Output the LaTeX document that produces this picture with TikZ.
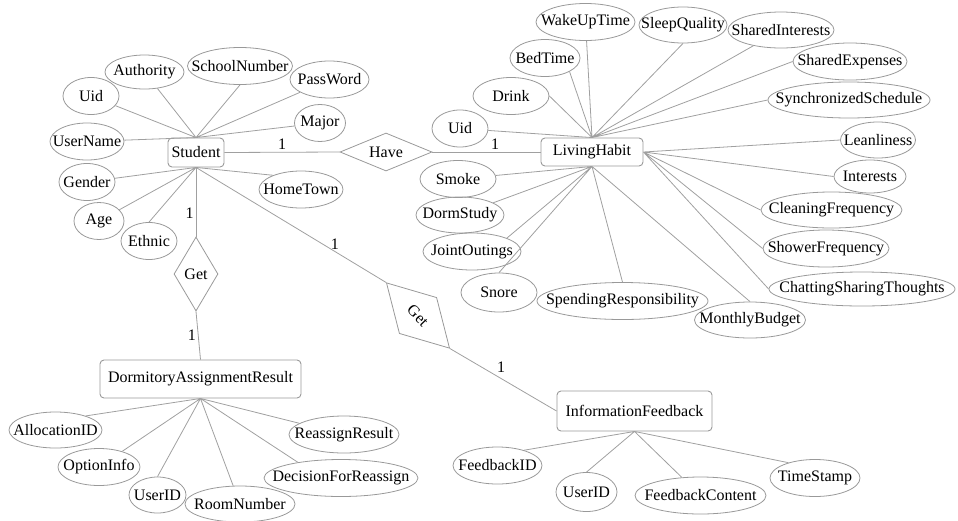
\documentclass[tikz,border=0pt]{standalone}
\usepackage{fontspec}
\setmainfont{Liberation Serif}
\usepackage{tikz}
\usetikzlibrary{shapes.geometric}
\definecolor{linegray}{HTML}{A0A0A0}
\definecolor{boxgray}{HTML}{999999}

\begin{document}
\begin{tikzpicture}[x=1pt, y=-1pt, font=\fontsize{16}{19}\selectfont,
  entity/.style={draw=boxgray, rounded corners=4pt, inner sep=2pt, line width=0.9pt},
  attr/.style={ellipse, draw=boxgray, inner sep=0pt, minimum height=37pt, line width=0.8pt,
    execute at begin node={\hbox to 0pt\bgroup\hss}, execute at end node={\hss\egroup}},
  rel/.style={diamond, draw=boxgray, inner sep=0pt, line width=0.8pt},
  link/.style={draw=linegray, line width=0.8pt},
  card/.style={inner sep=2pt}]
\useasboundingbox (0,0) rectangle (958,520);

% entities
\node[entity, minimum width=56pt, minimum height=29pt] (student) at (196,152.5) {Student};
\node[entity, minimum width=102pt, minimum height=28pt] (living) at (592,152) {LivingHabit};
\node[entity, minimum width=201pt, minimum height=38pt] (dorm) at (200.5,379) {DormitoryAssignmentResult};
\node[entity, minimum width=155pt, minimum height=40pt] (feedback) at (634.5,411) {InformationFeedback};

% relations
\node[rel, minimum width=92pt, minimum height=38pt, aspect=2.4] (have) at (386,152) {Have};
\node[rel, minimum width=44pt, minimum height=74pt, aspect=0.6] (getD) at (196,274) {Get};
\node[rel, minimum width=91pt, minimum height=52pt, aspect=1.75, rotate=-46] (getF) at (418,315.5) {Get};

% Student attributes
\node[attr, minimum width=56pt] (uidS) at (91,96) {Uid};
\node[attr, minimum width=79pt, minimum height=34pt] (authority) at (144.5,72) {Authority};
\node[attr, minimum width=105pt] (schoolNo) at (240,66) {SchoolNumber};
\node[attr, minimum width=79pt] (password) at (329.5,79.5) {PassWord};
\node[attr, minimum width=51pt] (major) at (320,123) {Major};
\node[attr, minimum width=74pt] (userName) at (87,141.5) {UserName};
\node[attr, minimum width=56pt] (gender) at (87,182) {Gender};
\node[attr, minimum width=50pt] (age) at (99,221) {Age};
\node[attr, minimum width=56pt] (ethnic) at (149,241) {Ethnic};
\node[attr, minimum width=84pt] (homeTown) at (301,189.5) {HomeTown};

% LivingHabit attributes
\node[attr, minimum width=99pt] (wakeUp) at (585.5,22) {WakeUpTime};
\node[attr, minimum width=88pt, minimum height=36pt] (sleepQ) at (683,25) {SleepQuality};
\node[attr, minimum width=106pt, minimum height=36pt] (sharedInt) at (781,30) {SharedInterests};
\node[attr, minimum width=114pt] (sharedExp) at (850,61.5) {SharedExpenses};
\node[attr, minimum width=70pt] (bedTime) at (545,58) {BedTime};
\node[attr, minimum width=76pt] (drink) at (511,96) {Drink};
\node[attr, minimum width=162pt, minimum height=36pt] (syncSched) at (849,100) {SynchronizedSchedule};
\node[attr, minimum width=56pt] (uidL) at (460,128.5) {Uid};
\node[attr, minimum width=75pt, minimum height=36pt] (leanliness) at (878,140) {Leanliness};
\node[attr, minimum width=72pt, minimum height=33pt] (interests) at (870,176.5) {Interests};
\node[attr, minimum width=141pt, minimum height=36pt] (cleaning) at (831.5,210) {CleaningFrequency};
\node[attr, minimum width=126pt] (shower) at (826,248.5) {ShowerFrequency};
\node[attr, minimum width=186pt, minimum height=34pt] (chatting) at (862,289) {ChattingSharingThoughts};
\node[attr, minimum width=76pt] (smoke) at (458,179) {Smoke};
\node[attr, minimum width=88pt, minimum height=36pt] (dormStudy) at (460,215) {DormStudy};
\node[attr, minimum width=98pt] (outings) at (472,251.5) {JointOutings};
\node[attr, minimum width=76pt, minimum height=39pt] (snore) at (499,292.5) {Snore};
\node[attr, minimum width=171pt] (spending) at (622.5,301) {SpendingResponsibility};
\node[attr, minimum width=111pt, minimum height=36pt] (budget) at (750,320) {MonthlyBudget};

% DormitoryAssignmentResult attributes
\node[attr, minimum width=93pt, minimum height=36pt] (allocation) at (55.5,430) {AllocationID};
\node[attr, minimum width=82pt] (optionInfo) at (99,467) {OptionInfo};
\node[attr, minimum width=57pt, minimum height=36pt] (userIdD) at (157.5,495) {UserID};
\node[attr, minimum width=110pt, minimum height=36pt] (roomNo) at (240,504) {RoomNumber};
\node[attr, minimum width=110pt] (reassign) at (344,434.5) {ReassignResult};
\node[attr, minimum width=154pt] (decision) at (341,478) {DecisionForReassign};

% InformationFeedback attributes
\node[attr, minimum width=89pt] (feedbackId) at (497.5,465.5) {FeedbackID};
\node[attr, minimum width=61pt, minimum height=39pt] (userIdF) at (586.5,492) {UserID};
\node[attr, minimum width=131pt] (content) at (700.5,495.5) {FeedbackContent};
\node[attr, minimum width=90pt] (timeStamp) at (815,478) {TimeStamp};

% attribute links
\draw[link] (student.north) -- (uidS) (student.north) -- (authority) (student.north) -- (schoolNo.south)
  (student.north) -- (password) (student.north) -- (major) (student.north) -- (userName);
\draw[link] (student.south) -- (gender) (student.south) -- (age) (student.south) -- (ethnic.north)
  (student.south) -- (homeTown.153);
\draw[link] (living.north) -- (wakeUp) (living.north) -- (sleepQ.south) (living.north) -- (sharedInt)
  (living.north) -- (sharedExp.west) (living.north) -- (bedTime.-29) (living.north) -- (drink.east)
  (living.north) -- (syncSched.west) (living.north) -- (uidL);
\draw[link] (living.east) -- (leanliness.west) (living.east) -- (interests.west) (living.east) -- (cleaning.west)
  (living.east) -- (shower.west) (living.east) -- (chatting.west);
\draw[link] (living.south) -- (smoke) (living.south) -- (dormStudy) (living.south) -- (outings.21)
  (living.south) -- (snore.north) (living.south) -- (spending.north) (living.south) -- (budget.north);
\draw[link] (dorm.south) -- (allocation.25) (dorm.south) -- (optionInfo) (dorm.south) -- (userIdD.north)
  (dorm.south) -- (roomNo) (dorm.south) -- (reassign) (dorm.south) -- (decision.160);
\draw[link] (feedback.south) -- (feedbackId.30) (feedback.south) -- (userIdF.north)
  (feedback.south) -- (content) (feedback.south) -- (timeStamp.150);

% relation links
\draw[link] (student.east) -- node[card, above] {1} (have.west);
\draw[link] (have.east) -- node[card, above, pos=0.58] {1} (living.west);
\draw[link] (student.south) -- node[card, left, pos=0.66] {1} (getD.north);
\draw[link] (getD.south) -- node[card, left] {1} (dorm.north);
\draw[link] (student.south) -- node[card, above, pos=0.73] {1} (getF.west);
\draw[link] (getF.east) -- node[card, above right, pos=0.42] {1} (feedback.west);
\end{tikzpicture}
\end{document}
